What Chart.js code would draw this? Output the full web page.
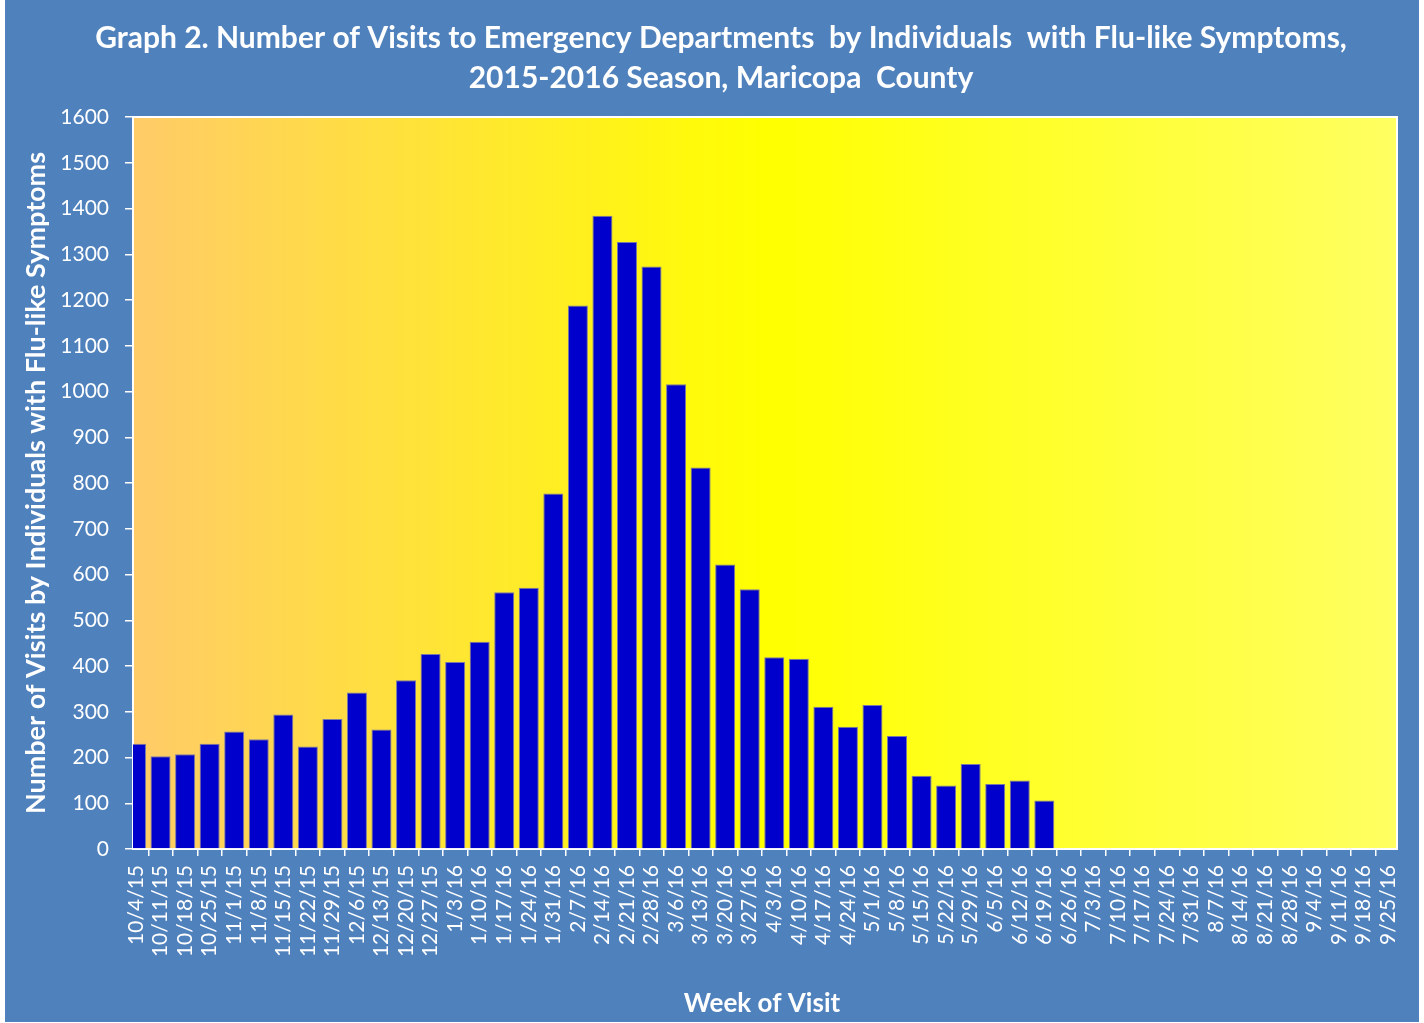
<!DOCTYPE html>
<html>
<head>
<meta charset="utf-8">
<script src="https://cdn.jsdelivr.net/npm/chart.js@4"></script>
<style>
  html, body { margin: 0; padding: 0; background: #ffffff; }
  #wrap { position: absolute; left: 5px; top: 0; width: 1414px; height: 1022px; background: #4f81bd; }
</style>
</head>
<body>
<div id="wrap"><canvas id="chart"></canvas></div>
<script>
const weeks = [
  '10/4/15', '10/11/15', '10/18/15', '10/25/15', '11/1/15', '11/8/15', '11/15/15', '11/22/15',
  '11/29/15', '12/6/15', '12/13/15', '12/20/15', '12/27/15', '1/3/16', '1/10/16', '1/17/16',
  '1/24/16', '1/31/16', '2/7/16', '2/14/16', '2/21/16', '2/28/16', '3/6/16', '3/13/16',
  '3/20/16', '3/27/16', '4/3/16', '4/10/16', '4/17/16', '4/24/16', '5/1/16', '5/8/16',
  '5/15/16', '5/22/16', '5/29/16', '6/5/16', '6/12/16', '6/19/16', '6/26/16', '7/3/16',
  '7/10/16', '7/17/16', '7/24/16', '7/31/16', '8/7/16', '8/14/16', '8/21/16', '8/28/16',
  '9/4/16', '9/11/16', '9/18/16', '9/25/16'
];

// weekly ED visits, season 2015-2016 (no data after 6/19/16)
const visits = [
  230, 203, 207, 230, 257, 240, 294, 224,
  284, 342, 261, 369, 426, 409, 453, 561,
  571, 777, 1188, 1384, 1327, 1273, 1016, 834,
  622, 568, 419, 416, 311, 267, 315, 247,
  160, 139, 186, 142, 150, 106, null, null,
  null, null, null, null, null, null, null, null,
  null, null, null, null
];

const yTicks = { min: 0, max: 1600, step: 100 };

const titleLines = [
  'Graph 2. Number of Visits to Emergency Departments  by Individuals  with Flu-like Symptoms,',
  '2015-2016 Season, Maricopa  County'
];

// plot area is a bit wider than the category axis (Excel style)
const plotPad = { left: 3, right: 9 };

const plotBackground = {
  id: 'plotBackground',
  beforeDatasetsDraw(chart) {
    const { ctx, chartArea: a } = chart;
    const x0 = a.left - plotPad.left;
    const x1 = a.right + plotPad.right;
    const g = ctx.createLinearGradient(x0, 0, x1, 0);
    g.addColorStop(0, '#ffcb68');
    g.addColorStop(0.5, '#ffff00');
    g.addColorStop(1, '#ffff62');
    ctx.save();
    ctx.fillStyle = g;
    ctx.fillRect(x0, a.top, x1 - x0, a.bottom - a.top);
    ctx.strokeStyle = '#ffffff';
    ctx.lineWidth = 2;
    ctx.strokeRect(x0, a.top, x1 - x0, a.bottom - a.top);
    ctx.restore();
  }
};

Chart.defaults.font.family = "Lato, 'Open Sans', sans-serif";
Chart.defaults.color = '#ffffff';

new Chart(document.getElementById('chart'), {
  type: 'bar',
  data: {
    labels: weeks,
    datasets: [{
      data: visits,
      backgroundColor: '#0000cc',
      borderColor: '#7878a8',
      borderWidth: 1,
      barPercentage: 0.815,
      categoryPercentage: 1.0,
      clip: { left: plotPad.left, top: 0, right: plotPad.right, bottom: 0 }
    }]
  },
  options: {
    responsive: true,
    maintainAspectRatio: false,
    animation: false,
    layout: { padding: { left: 18, right: 0, top: 0, bottom: 0 } },
    plugins: {
      legend: { display: false },
      tooltip: { enabled: false },
      title: {
        display: true,
        text: titleLines,
        color: '#ffffff',
        font: { size: 30, weight: 'bold', lineHeight: 40 / 30 },
        padding: { top: 18, bottom: 19 }
      }
    },
    scales: {
      x: {
        offset: false,
        afterFit: s => {
          s.height = 173;
          s.paddingLeft = 0;
          s.paddingRight = 31;
        },
        grid: {
          drawOnChartArea: false,
          drawTicks: true,
          tickLength: 7,
          color: '#ffffff',
          lineWidth: 1.5
        },
        border: { display: false },
        ticks: {
          autoSkip: false,
          minRotation: 90,
          maxRotation: 90,
          padding: 9,
          color: '#ffffff',
          font: { size: 21 }
        },
        title: {
          display: true,
          text: 'Week of Visit',
          color: '#ffffff',
          font: { size: 26, weight: 'bold' },
          padding: { top: 0, bottom: 3 }
        }
      },
      y: {
        min: yTicks.min,
        max: yTicks.max,
        afterFit: s => { s.width = 113; },
        grid: {
          drawOnChartArea: false,
          drawTicks: true,
          tickLength: 11,
          color: '#ffffff',
          lineWidth: 1.5
        },
        border: { display: false },
        ticks: {
          stepSize: yTicks.step,
          padding: 16,
          color: '#ffffff',
          font: { size: 21 },
          callback: v => String(v)
        },
        title: {
          display: true,
          text: 'Number of Visits by Individuals with Flu-like Symptoms',
          color: '#ffffff',
          font: { size: 27, weight: 'bold', lineHeight: 1 },
          padding: { top: 0, bottom: 0 }
        }
      }
    }
  },
  plugins: [plotBackground]
});
</script>
</body>
</html>
